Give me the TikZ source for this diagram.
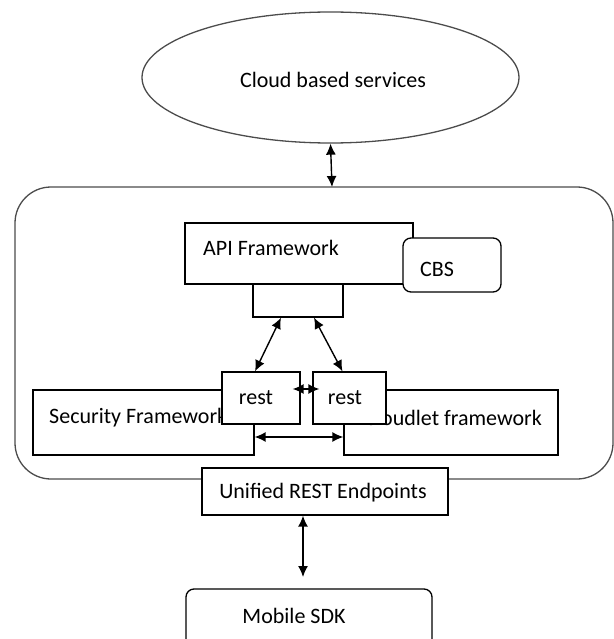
\documentclass[tikz,border=0pt]{standalone}
\usepackage{fontspec}
\setmainfont{Carlito}
\usepackage{tikz}
\usetikzlibrary{shapes,arrows,arrows.meta,positioning}

\begin{document}
\begin{tikzpicture}[
    x=1pt, y=-1pt,
    font=\fontsize{22}{26}\selectfont,
    >={Latex[length=11pt,width=10pt]},
    box/.style={rectangle, draw=black, line width=1.3pt, fill=white, inner sep=0pt},
    roundbox/.style={box, rounded corners=8pt},
    txt/.style={inner sep=0pt},
    link/.style={<->, line width=1.4pt}
]
\useasboundingbox (0,0) rectangle (613,639);

% outer platform
\draw[draw=black!70, line width=1.3pt, rounded corners=36pt] (15,187) rectangle (613,479);
\coordinate (platformtop) at (332,187);

\node[ellipse, draw=black!70, line width=1.3pt, minimum width=377pt, minimum height=131pt, inner sep=0pt] (cloud) at (330.5,77.5) {};
\node[txt] (cloudtext) at (333,80) {Cloud based services};

\node[box, minimum width=228pt, minimum height=61pt] (api) at (299,253.5) {};
\node[txt] (apitext) at (271,248) {API Framework};
\node[roundbox, minimum width=98pt, minimum height=54pt] (cbs) at (452,265) {};
\node[txt] (cbstext) at (437,269) {CBS};
\node[box, minimum width=90pt, minimum height=33pt] (apiport) at (298,300.5) {};

\node[box, minimum width=221pt, minimum height=65pt] (security) at (143.5,422.5) {};
\node[txt, anchor=west] (securitytext) at (49,418) {Security Framework};
\node[box, minimum width=214pt, minimum height=65pt] (cloudlet) at (451,422.5) {};
\node[txt, anchor=east] (cloudlettext) at (542,418) {Cloudlet framework};

\node[box, minimum width=78pt, minimum height=52pt] (restA) at (261,398) {};
\node[txt] (restAtext) at (256,398) {rest};
\node[box, minimum width=73pt, minimum height=52pt] (restB) at (349.5,398) {};
\node[txt] (restBtext) at (345,398) {rest};

\node[box, minimum width=246pt, minimum height=47pt] (unified) at (325,491.5) {};
\node[txt] (unifiedtext) at (323,493) {Unified REST Endpoints};
\node[roundbox, minimum width=246pt, minimum height=61pt] (mobile) at (309,619.5) {};
\node[txt] (mobiletext) at (294,616) {Mobile SDK};
\coordinate (mobiletip) at (303,577);

% connectors
\draw[link] (cloud.south) -- (platformtop);
\draw[link] ([xshift=-17pt]apiport.south) -- ([xshift=-6pt]restA.north);
\draw[link] ([xshift=16pt]apiport.south) -- ([xshift=-7pt]restB.north);
\draw[link] ([xshift=-8pt,yshift=9pt]restA.east) -- ([xshift=7pt,yshift=9pt]restB.west);
\draw[link] ([yshift=-14.5pt]security.east) -- ([yshift=-14.5pt]cloudlet.west);
\draw[link] ([xshift=-22pt]unified.south) -- (mobiletip);

\end{tikzpicture}
\end{document}
